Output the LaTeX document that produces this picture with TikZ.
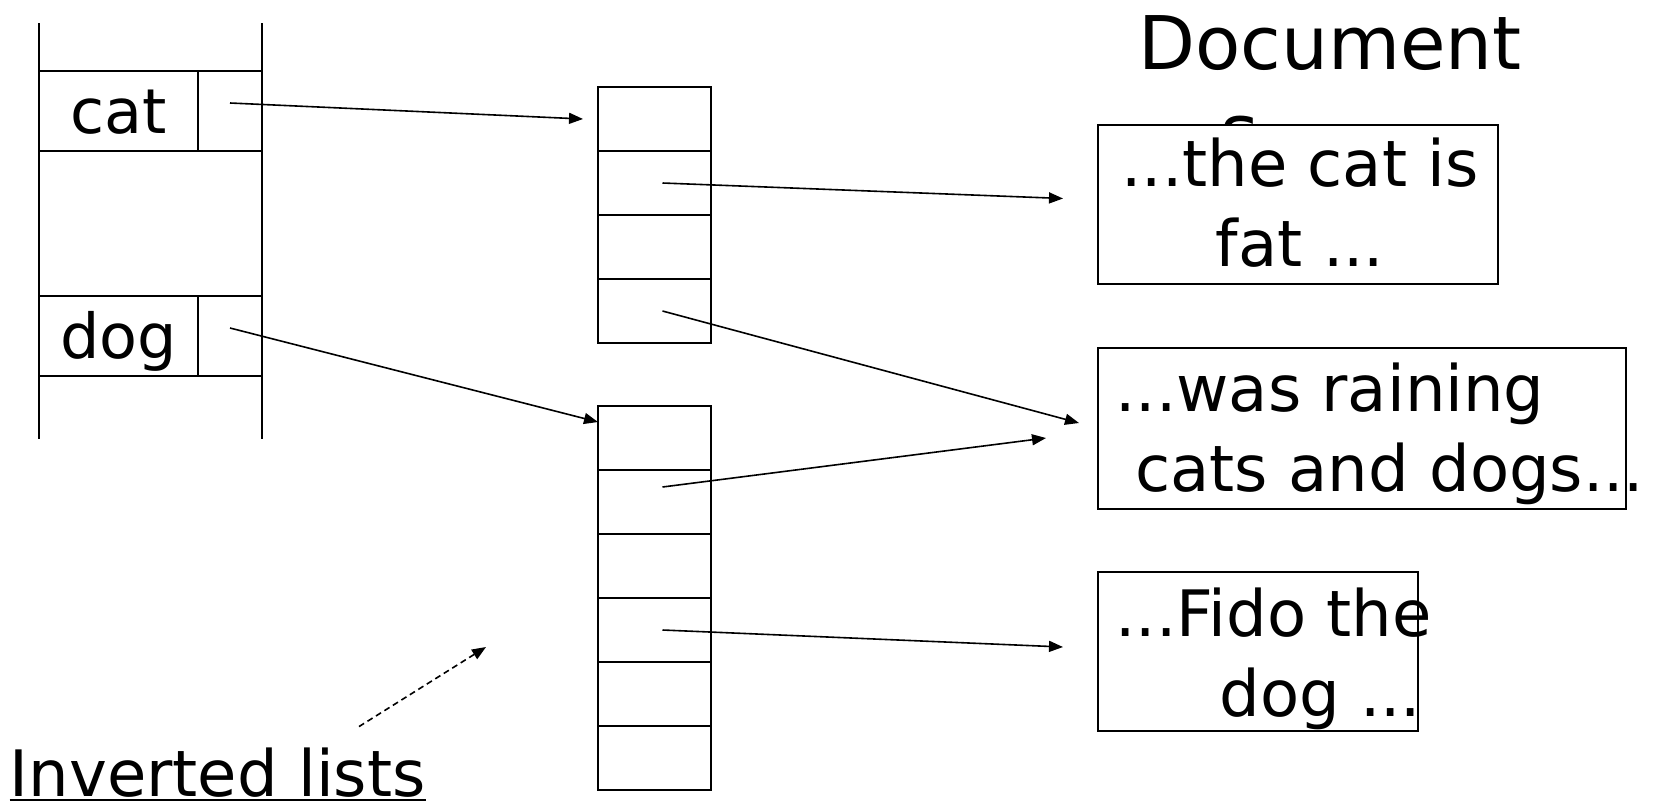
\documentclass[tikz,border=0pt]{standalone}
\usepackage{fontspec}
\setmainfont{DejaVu Sans}
\usetikzlibrary{arrows.meta,positioning}

\begin{document}
\begin{tikzpicture}[x=0.5pt, y=-0.5pt,
    cell/.style={rectangle, draw=black, line width=1pt, outer sep=0pt, inner sep=0pt,
      minimum width=56.5pt, minimum height=32pt},
    keycell/.style={rectangle, draw=black, line width=1pt, outer sep=0pt, inner sep=0pt,
      minimum height=40pt, text height=22.3pt, text depth=0pt, font=\fontsize{31pt}{38pt}\selectfont},
    docbox/.style={rectangle, draw=black, fill=white, line width=0.75pt, outer sep=0pt},
    doctext/.style={inner sep=0pt, font=\fontsize{32pt}{40pt}\selectfont},
    link/.style={line width=0.8pt, -{Triangle[length=7pt, width=5.5pt]}}]
  \useasboundingbox (0,0) rectangle (1655,804);

  % dictionary
  \node (catkey) [keycell, minimum width=79.5pt, anchor=north west] at (39,71) {cat};
  \node (catptr) [keycell, minimum width=32pt, right=0pt of catkey] {};
  \node (dogkey) [keycell, minimum width=79.5pt, below=72.5pt of catkey] {dog};
  \node (dogptr) [keycell, minimum width=32pt, right=0pt of dogkey] {};
  \draw [line width=1pt] ([yshift=24pt]catkey.north west) -- ([yshift=-31.5pt]dogkey.south west);
  \draw [line width=1pt] ([yshift=24pt]catptr.north east) -- ([yshift=-31.5pt]dogptr.south east);

  % inverted lists
  \node (cat1) [cell, anchor=north west] at (598,87) {};
  \node (cat2) [cell, below=0pt of cat1] {};
  \node (cat3) [cell, below=0pt of cat2] {};
  \node (cat4) [cell, below=0pt of cat3] {};
  \node (dog1) [cell, below=31.5pt of cat4] {};
  \node (dog2) [cell, below=0pt of dog1] {};
  \node (dog3) [cell, below=0pt of dog2] {};
  \node (dog4) [cell, below=0pt of dog3] {};
  \node (dog5) [cell, below=0pt of dog4] {};
  \node (dog6) [cell, below=0pt of dog5] {};

  % documents
  \node (doctitle) [inner sep=0pt, anchor=north west, align=left,
    font=\fontsize{37pt}{44pt}\selectfont] at (1138,15) {Document\\\hspace*{41pt}s};
  \node (doc1) [docbox, minimum width=200pt, minimum height=79.5pt, anchor=north west] at (1098,125) {};
  \node (doc2) [docbox, minimum width=264pt, minimum height=80.5pt, below right=32pt and 0pt of doc1.south west] {};
  \node (doc3) [docbox, minimum width=160pt, minimum height=79.5pt, below right=31.5pt and 0pt of doc2.south west] {};
  \node (text1) [doctext, align=center] at ([xshift=1pt, yshift=0.75pt]doc1.center) {...the cat is\\fat ...};
  \node (text2) [doctext, align=left, anchor=west] at ([xshift=8.5pt, yshift=-2.75pt]doc2.west)
    {...was raining\\\hspace*{10pt}cats and dogs...};
  \node (text3) [doctext, align=left, anchor=west] at ([xshift=8.5pt, yshift=-3.75pt]doc3.west)
    {...Fido the\\\hspace*{52pt}dog ...};

  % pointers
  \draw [link] ([yshift=4pt]catptr.center) -- ([xshift=-7.5pt]cat1.west);
  \draw [link] ([yshift=4pt]dogptr.center) -- ([yshift=-8pt]dog1.north west);
  \draw [link] ([xshift=4pt]cat2.center) -- ([xshift=-17.5pt, yshift=3pt]doc1.west);
  \draw [link] ([xshift=4pt]cat4.center) -- ([xshift=-9.5pt, yshift=2.75pt]doc2.west);
  \draw [link] ([xshift=4pt, yshift=7.5pt]dog2.center) -- ([xshift=-26pt, yshift=-4.75pt]doc2.west);
  \draw [link] ([xshift=4pt]dog4.center) -- ([xshift=-17.5pt, yshift=2.25pt]doc3.west);

  % label
  \node (invlabel) [doctext, anchor=base west] at (9.5,796) {Inverted lists};
  \draw [line width=1.3pt] ([yshift=-2pt]invlabel.base west) -- ([yshift=-2pt]invlabel.base east);
  \coordinate (invtip) at (486,647);
  \draw [link, dash pattern=on 3pt off 2pt] ([xshift=174.75pt, yshift=10.2pt]invlabel.north west) -- (invtip);
\end{tikzpicture}
\end{document}
